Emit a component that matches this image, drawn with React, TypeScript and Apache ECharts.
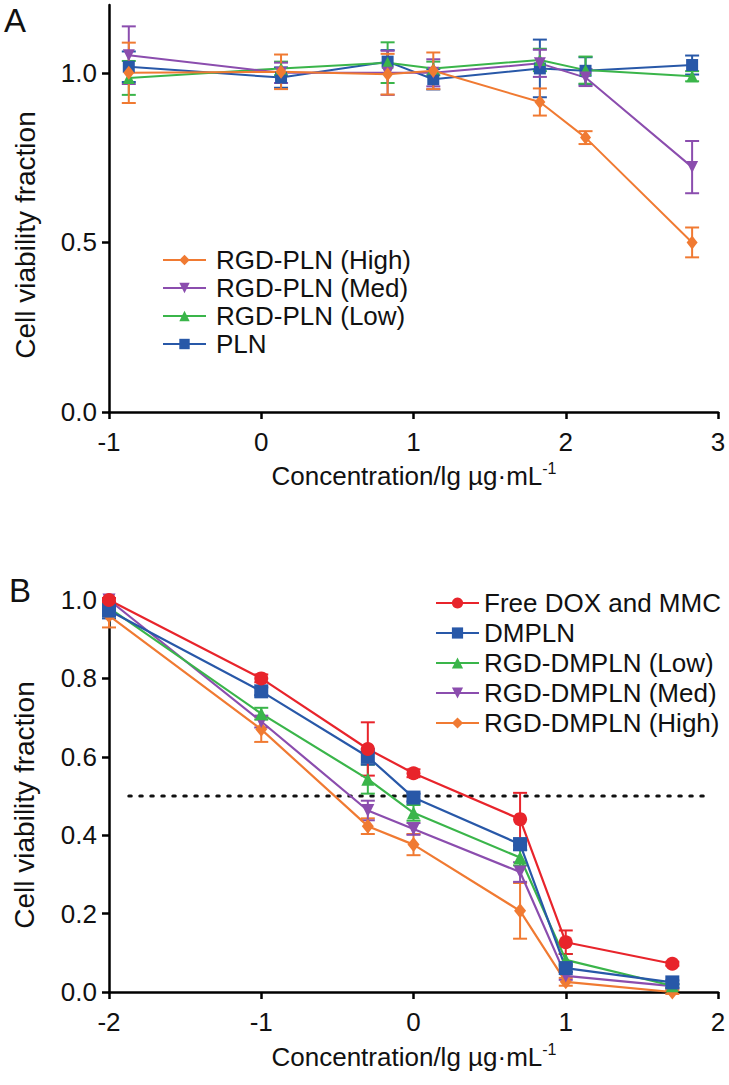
import React, { useEffect, useRef } from "react";
import * as echarts from "echarts";

// ---------- Panel A data ----------
const xA = [-0.87, 0.13, 0.83, 1.13, 1.83, 2.13, 2.83];
const namesA = ["RGD-PLN (High)", "RGD-PLN (Med)", "RGD-PLN (Low)", "PLN"];
const highA = [1.0, 1.003, 0.996, 1.006, 0.914, 0.809, 0.5];
const highAErr = [0.089, 0.051, 0.06, 0.054, 0.04, 0.019, 0.044];
const medA = [1.052, 1.0, 1.0, 1.0, 1.028, 0.986, 0.722];
const medAErr = [0.085, 0.03, 0.065, 0.04, 0.04, 0.025, 0.077];
const lowA = [0.985, 1.013, 1.03, 1.013, 1.038, 1.008, 0.99];
const lowAErr = [0.05, 0.02, 0.06, 0.02, 0.033, 0.04, 0.015];
const plnA = [1.018, 0.986, 1.033, 0.981, 1.013, 1.006, 1.023];
const plnAErr = [0.045, 0.03, 0.034, 0.03, 0.085, 0.04, 0.028];
const yTicksA = [0, 0.5, 1.0];

// ---------- Panel B data ----------
const xB = [-2, -1, -0.3, 0, 0.7, 1, 1.7];
const namesB = ["Free DOX and MMC", "DMPLN", "RGD-DMPLN (Low)", "RGD-DMPLN (Med)", "RGD-DMPLN (High)"];
const freeB = [1.0, 0.8, 0.62, 0.558, 0.441, 0.127, 0.072];
const freeBErr = [0.005, 0.01, 0.068, 0.01, 0.067, 0.03, 0.005];
const dmplnB = [0.973, 0.767, 0.6, 0.496, 0.377, 0.061, 0.0245];
const dmplnBErr = [0.02, 0.01, 0.02, 0.01, 0.015, 0.01, 0.005];
const lowB = [0.98, 0.71, 0.543, 0.457, 0.343, 0.082, 0.016];
const lowBErr = [0.01, 0.015, 0.037, 0.02, 0.02, 0.015, 0.005];
const medB = [1.0, 0.69, 0.463, 0.416, 0.306, 0.041, 0.015];
const medBErr = [0.005, 0.015, 0.025, 0.015, 0.025, 0.01, 0.005];
const highB = [0.96, 0.67, 0.423, 0.376, 0.207, 0.026, 0.0];
const highBErr = [0.03, 0.032, 0.02, 0.027, 0.071, 0.01, 0.005];
const halfLine = 0.5;
const halfLineX = [-1.87, 1.94];

const FONT = "'Liberation Sans', Arial, Helvetica, sans-serif";
const ORANGE = "#F07A32";
const PURPLE = "#8B4DAE";
const GREEN = "#3AB54A";
const BLUE = "#2858A8";
const RED = "#E8242B";

function lineSeries(name: string, xs: number[], ys: number[], color: string, symbol: string, size: any, rotate: number, idx: number, width: number) {
  return {
    type: "line",
    name,
    xAxisIndex: idx,
    yAxisIndex: idx,
    data: xs.map((x, i) => [x, ys[i]]),
    symbol,
    symbolSize: size,
    symbolRotate: rotate,
    showAllSymbol: true,
    itemStyle: { color },
    lineStyle: { color, width },
    z: 3,
  };
}

function errSeries(name: string, xs: number[], ys: number[], errs: number[], color: string, idx: number) {
  return {
    type: "custom",
    name: "err-" + name,
    xAxisIndex: idx,
    yAxisIndex: idx,
    encode: { x: 0, y: 1 },
    data: xs.map((x, i) => [x, ys[i], errs[i]]),
    z: 2,
    renderItem: (params: any, api: any) => {
      const x = api.value(0);
      const y = api.value(1);
      const e = api.value(2);
      const top = api.coord([x, y + e]);
      const bot = api.coord([x, y - e]);
      const w = 7;
      const st = { stroke: color, lineWidth: 2 };
      return {
        type: "group",
        children: [
          { type: "line", shape: { x1: top[0], y1: top[1], x2: bot[0], y2: bot[1] }, style: st },
          { type: "line", shape: { x1: top[0] - w, y1: top[1], x2: top[0] + w, y2: top[1] }, style: st },
          { type: "line", shape: { x1: bot[0] - w, y1: bot[1], x2: bot[0] + w, y2: bot[1] }, style: st },
        ],
      };
    },
  };
}

const axisLine = { lineStyle: { color: "#000", width: 2.5 } };
const axisTick = { length: 7, lineStyle: { color: "#000", width: 2.5 } };
const labelStyle = { fontSize: 26, color: "#111", fontFamily: FONT };

function xName(y: number) {
  return {
    type: "text", x: 414, y,
    style: {
      text: "{a|Concentration/lg µg·mL}{s|-1}", align: "center", verticalAlign: "middle",
      rich: {
        a: { fontSize: 26, fontFamily: FONT, fill: "#111" },
        s: { fontSize: 16, fontFamily: FONT, fill: "#111", padding: [0, 0, 16, 0] },
      },
    },
  };
}

export default function App() {
  const ref = useRef<HTMLDivElement>(null);
  useEffect(() => {
    if (!ref.current) return;
    const chart = echarts.init(ref.current, undefined, { renderer: "svg" });
    const option: any = {
      animation: false,
      backgroundColor: "#fff",
      textStyle: { fontFamily: FONT },
      grid: [
        { left: 109, top: 5, width: 609, height: 407, outerBoundsMode: "none", containLabel: false },
        { left: 109, top: 600, width: 609, height: 392, outerBoundsMode: "none", containLabel: false },
      ],
      xAxis: [
        {
          gridIndex: 0, type: "value", min: -1, max: 3, interval: 1,
          axisLine, axisTick, splitLine: { show: false },
          axisLabel: { ...labelStyle, margin: 17 },
        },
        {
          gridIndex: 1, type: "value", min: -2, max: 2, interval: 1,
          axisLine, axisTick, splitLine: { show: false },
          axisLabel: { ...labelStyle, margin: 17 },
        },
      ],
      yAxis: [
        {
          gridIndex: 0, type: "value", min: 0, max: 1.2, interval: 0.5,
          axisLine: { ...axisLine, onZero: false }, splitLine: { show: false },
          axisTick: { ...axisTick, customValues: yTicksA },
          axisLabel: { ...labelStyle, margin: 12, customValues: yTicksA, formatter: (v: number) => v.toFixed(1) },
        },
        {
          gridIndex: 1, type: "value", min: 0, max: 1.0, interval: 0.2,
          axisLine: { ...axisLine, onZero: false }, splitLine: { show: false }, axisTick,
          axisLabel: { ...labelStyle, margin: 12, formatter: (v: number) => v.toFixed(1) },
        },
      ],
      legend: [
        {
          data: namesA, orient: "vertical", left: 157, top: 242, itemWidth: 43, itemHeight: 13, itemGap: 2,
          selectedMode: false, textStyle: { fontSize: 26, color: "#111", fontFamily: FONT, padding: [0, 0, 0, 5] },
        },
        {
          data: namesB, orient: "vertical", left: 430, top: 585, itemWidth: 43, itemHeight: 14, itemGap: 4,
          selectedMode: false, textStyle: { fontSize: 26, color: "#111", fontFamily: FONT, padding: [0, 0, 0, 0] },
        },
      ],
      graphic: [
        { type: "text", x: 15, y: 20, style: { text: "A", fontSize: 33, fontFamily: FONT, fill: "#111", align: "center", verticalAlign: "middle" } },
        { type: "text", x: 20, y: 590, style: { text: "B", fontSize: 33, fontFamily: FONT, fill: "#111", align: "center", verticalAlign: "middle" } },
        { type: "text", x: 25, y: 235, rotation: Math.PI / 2, style: { text: "Cell viability fraction", fontSize: 28, fontFamily: FONT, fill: "#111", align: "center", verticalAlign: "middle" } },
        { type: "text", x: 24, y: 805, rotation: Math.PI / 2, style: { text: "Cell viability fraction", fontSize: 28, fontFamily: FONT, fill: "#111", align: "center", verticalAlign: "middle" } },
        xName(476),
        xName(1057),
      ],
      series: [
        // Panel A
        errSeries(namesA[3], xA, plnA, plnAErr, BLUE, 0),
        errSeries(namesA[2], xA, lowA, lowAErr, GREEN, 0),
        errSeries(namesA[1], xA, medA, medAErr, PURPLE, 0),
        errSeries(namesA[0], xA, highA, highAErr, ORANGE, 0),
        lineSeries(namesA[3], xA, plnA, BLUE, "rect", 12, 0, 0, 2),
        lineSeries(namesA[2], xA, lowA, GREEN, "triangle", 12, 0, 0, 2),
        lineSeries(namesA[1], xA, medA, PURPLE, "triangle", 12, 180, 0, 2),
        lineSeries(namesA[0], xA, highA, ORANGE, "diamond", [11, 14], 0, 0, 2),
        // Panel B
        {
          type: "line", name: "IC50", xAxisIndex: 1, yAxisIndex: 1, silent: true, symbol: "none",
          data: halfLineX.map((x) => [x, halfLine]),
          lineStyle: { color: "#111", width: 3, type: [2.5, 8.5], cap: "round" }, z: 1,
        },
        errSeries(namesB[4], xB, highB, highBErr, ORANGE, 1),
        errSeries(namesB[3], xB, medB, medBErr, PURPLE, 1),
        errSeries(namesB[2], xB, lowB, lowBErr, GREEN, 1),
        errSeries(namesB[1], xB, dmplnB, dmplnBErr, BLUE, 1),
        errSeries(namesB[0], xB, freeB, freeBErr, RED, 1),
        lineSeries(namesB[4], xB, highB, ORANGE, "diamond", [12, 15], 0, 1, 2.2),
        lineSeries(namesB[3], xB, medB, PURPLE, "triangle", 13, 180, 1, 2.2),
        lineSeries(namesB[2], xB, lowB, GREEN, "triangle", 13, 0, 1, 2.2),
        lineSeries(namesB[1], xB, dmplnB, BLUE, "rect", 14, 0, 1, 2.2),
        lineSeries(namesB[0], xB, freeB, RED, "circle", 14, 0, 1, 2.2),
      ],
    };
    chart.setOption(option);
    return () => chart.dispose();
  }, []);
  return <div ref={ref} style={{ position: "fixed", left: 0, top: 0, width: 729, height: 1085 }} />;
}
